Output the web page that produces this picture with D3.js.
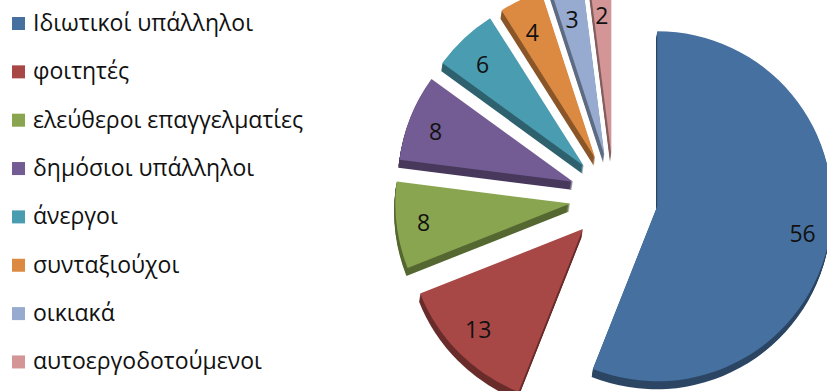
<!DOCTYPE html>
<html><head><meta charset="utf-8">
<script src="https://cdn.jsdelivr.net/npm/d3@7"></script>
<style>html,body{margin:0;padding:0;background:#fff;overflow:hidden}</style>
</head><body>
<svg id="chart" width="827" height="391"></svg>
<script>
const categories = ["Ιδιωτικοί υπάλληλοι","φοιτητές","ελεύθεροι επαγγελματίες","δημόσιοι υπάλληλοι","άνεργοι","συνταξιούχοι","οικιακά","αυτοεργοδοτούμενοι"];
const values = [56, 13, 8, 8, 6, 4, 3, 2];
const colors = ["#46709F","#A84846","#89A550","#735B93","#4A9CB0","#DC8A42","#96ABCF","#D39596"];

const svg = d3.select("#chart");
const cx = 614, cy = 198, r = 175, explode = 44, depth = 8;
const labelRx = 148, labelRy = 140;

const pie = d3.pie().sort(null).value(d => d)(values);
const arc = d3.arc().innerRadius(0).outerRadius(r);
const labelArc = d3.arc().innerRadius(labelRx).outerRadius(labelRx);

function off(d){
  const m = (d.startAngle + d.endAngle) / 2;
  return [cx + explode * Math.sin(m), cy - explode * Math.cos(m)];
}

const g = svg.append("g");
// sides (extrusion)
pie.forEach((d,i) => {
  const [x,y] = off(d);
  const side = g.append("g");
  for (let k = depth; k >= 1; k--) {
    side.append("path").attr("d", arc(d))
      .attr("transform", `translate(${x - k*0.15},${y + k})`)
      .attr("fill", d3.color(colors[i]).darker(1.3));
  }
});
// top faces
pie.forEach((d,i) => {
  const [x,y] = off(d);
  g.append("path").attr("d", arc(d))
    .attr("transform", `translate(${x},${y})`)
    .attr("fill", colors[i]);
});
// labels
pie.forEach((d,i) => {
  const [x,y] = off(d);
  const [lx,ly] = labelArc.centroid(d);
  g.append("text").attr("x", x + lx).attr("y", y + ly * labelRy / labelRx + 0.5)
    .attr("text-anchor","middle").attr("dominant-baseline","central")
    .attr("font-family","'Open Sans', sans-serif").attr("font-size",23)
    .attr("fill","#111").text(values[i]);
});

// legend
const leg = svg.append("g");
categories.forEach((c,i) => {
  const y0 = 31 + i * 48.35;
  leg.append("rect").attr("x",12).attr("y",y0-14).attr("width",13).attr("height",13).attr("fill",colors[i]);
  leg.append("text").attr("x",33).attr("y",y0)
    .attr("font-family","'Open Sans', sans-serif").attr("font-size",23)
    .attr("fill","#111").text(c);
});
</script>
</body></html>
